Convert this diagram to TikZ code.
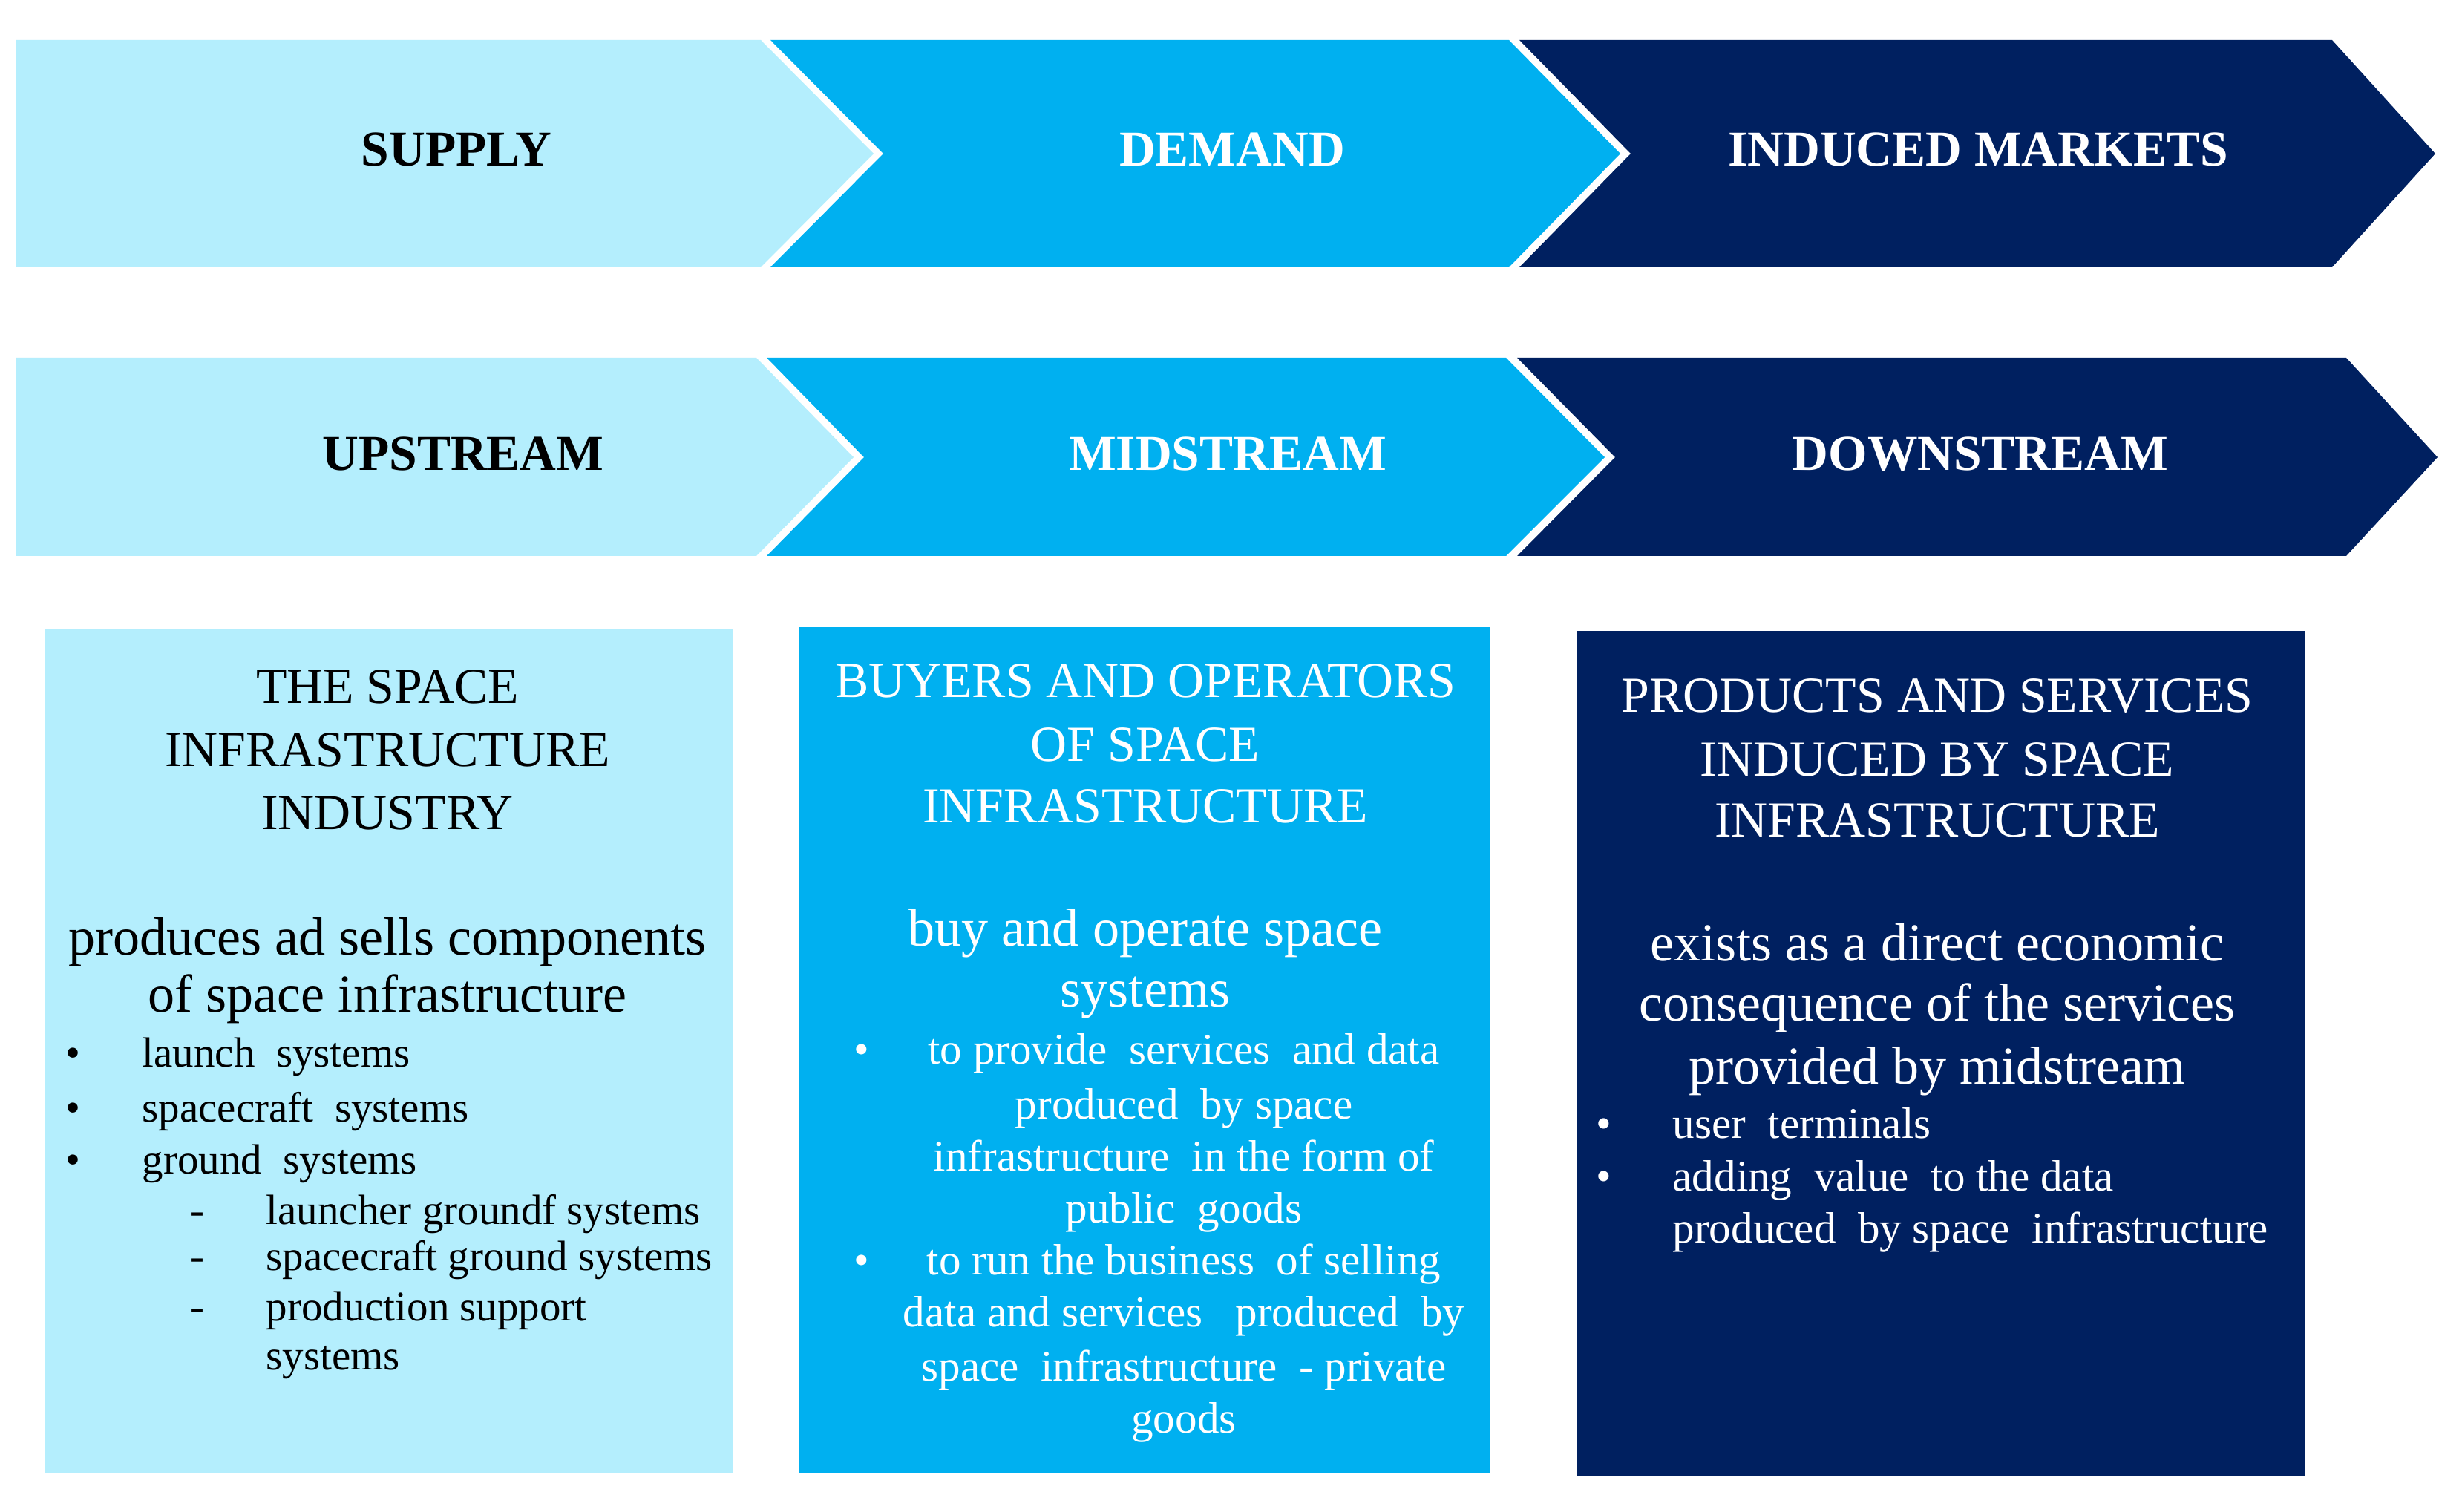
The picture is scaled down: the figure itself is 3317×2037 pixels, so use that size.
\documentclass[tikz,border=0pt]{standalone}
\usepackage{fontspec}
\setmainfont{Liberation Serif}
\definecolor{cLight}{RGB}{180,238,253}
\definecolor{cMid}{RGB}{0,176,240}
\definecolor{cDark}{RGB}{0,32,96}
\begin{document}
\begin{tikzpicture}[x=0.01cm,y=-0.01cm,
  lbl/.style={font=\fontsize{19.2}{23}\selectfont\bfseries,anchor=base,inner sep=0pt},
  ttl/.style={font=\fontsize{19.3}{24}\selectfont,anchor=base,inner sep=0pt},
  bodytxt/.style={font=\fontsize{20.5}{23}\selectfont,anchor=base,inner sep=0pt},
  itm/.style={font=\fontsize{16.8}{20}\selectfont,anchor=base west,inner sep=0pt},
  itms/.style={font=\fontsize{16.2}{20}\selectfont,anchor=base west,inner sep=0pt},
  itmc/.style={font=\fontsize{16.8}{20}\selectfont,anchor=base,inner sep=0pt}]
\useasboundingbox (0,0) rectangle (3317,2037);
\fill[white] (0,0) rectangle (3317,2037);
% row 1 chevrons
\fill[cLight] (22,54) -- (1025,54) -- (1177,207) -- (1025,360) -- (22,360) -- cycle;
\fill[cMid] (1038,54) -- (2033,54) -- (2183,207) -- (2033,360) -- (1038,360) -- (1190,207) -- cycle;
\fill[cDark] (2047,54) -- (3142,54) -- (3281,207) -- (3142,360) -- (2047,360) -- (2197,207) -- cycle;
% row 2 chevrons
\fill[cLight] (22,482) -- (1019,482) -- (1150,616) -- (1019,749) -- (22,749) -- cycle;
\fill[cMid] (1033,482) -- (2029,482) -- (2162,616) -- (2029,749) -- (1033,749) -- (1164,616) -- cycle;
\fill[cDark] (2044,482) -- (3161,482) -- (3284,616) -- (3161,749) -- (2044,749) -- (2176,616) -- cycle;
% chevron labels
\node[lbl,text=black] (supply) at (615,224) {SUPPLY};
\node[lbl,text=white] (demand) at (1660,224) {DEMAND};
\node[lbl,text=white] (induced) at (2665,224) {INDUCED MARKETS};
\node[lbl,text=black] (up) at (624,634) {UPSTREAM};
\node[lbl,text=white] (mid) at (1654,634) {MIDSTREAM};
\node[lbl,text=white] (down) at (2668,634) {DOWNSTREAM};
% boxes
\fill[cLight] (60,847) rectangle (988,1985);
\fill[cMid] (1077,845) rectangle (2008,1985);
\fill[cDark] (2125,850) rectangle (3105,1988);
% left box
\begin{scope}[text=black]
\node[ttl] (l1) at (522,948) {THE SPACE};
\node[ttl] (l2) at (522,1033) {INFRASTRUCTURE};
\node[ttl] (l3) at (522,1117) {INDUSTRY};
\node[bodytxt] (l4) at (522,1286) {produces ad sells components};
\node[bodytxt] (l5) at (522,1363) {of space infrastructure};
\node[itms] (lb1) at (88,1437) {•};
\node[itms] (lb2) at (88,1511) {•};
\node[itms] (lb3) at (88,1581) {•};
\node[itms] (lt1) at (191,1437) {launch\ \ systems};
\node[itms] (lt2) at (191,1511) {spacecraft\ \ systems};
\node[itms] (lt3) at (191,1581) {ground\ \ systems};
\node[itms] (ld1) at (256,1649) {-};
\node[itms] (ld2) at (256,1711) {-};
\node[itms] (ld3) at (256,1779) {-};
\node[itms] (ls1) at (358,1649) {launcher groundf systems};
\node[itms] (ls2) at (358,1711) {spacecraft ground systems};
\node[itms] (ls3) at (358,1779) {production support};
\node[itms] (ls4) at (358,1845) {systems};
\end{scope}
% middle box
\begin{scope}[text=white]
\node[ttl] (m1) at (1543,940) {BUYERS AND OPERATORS};
\node[ttl] (m2) at (1543,1026) {OF SPACE};
\node[ttl] (m3) at (1543,1109) {INFRASTRUCTURE};
\node[bodytxt] (m4) at (1543,1274) {buy and operate space};
\node[bodytxt] (m5) at (1543,1356) {systems};
\node[itm] (mb1) at (1150,1433) {•};
\node[itm] (mb2) at (1150,1717) {•};
\node[itmc] (mt1) at (1595,1433) {to provide\ \ services\ \ and data};
\node[itmc] (mt2) at (1595,1507) {produced\ \ by space};
\node[itmc] (mt3) at (1595,1577) {infrastructure\ \ in the form of};
\node[itmc] (mt4) at (1595,1647) {public\ \ goods};
\node[itmc] (mt5) at (1595,1717) {to run the business\ \ of selling};
\node[itmc] (mt6) at (1595,1787) {data and services\ \ \ produced\ \ by};
\node[itmc] (mt7) at (1595,1860) {space\ \ infrastructure\ \ - private};
\node[itmc] (mt8) at (1595,1930) {goods};
\end{scope}
% right box
\begin{scope}[text=white]
\node[ttl] (r1) at (2610,960) {PRODUCTS AND SERVICES};
\node[ttl] (r2) at (2610,1045) {INDUCED BY SPACE};
\node[ttl] (r3) at (2610,1127) {INFRASTRUCTURE};
\node[bodytxt] (r4) at (2610,1294) {exists as a direct economic};
\node[bodytxt] (r5) at (2610,1375) {consequence of the services};
\node[bodytxt] (r6) at (2610,1460) {provided by midstream};
\node[itm] (rb1) at (2150,1533) {•};
\node[itm] (rb2) at (2150,1604) {•};
\node[itm] (rt1) at (2253,1533) {user\ \ terminals};
\node[itm] (rt2) at (2253,1604) {adding\ \ value\ \ to the data};
\node[itm] (rt3) at (2253,1674) {produced\ \ by space\ \ infrastructure};
\end{scope}
\end{tikzpicture}
\end{document}
